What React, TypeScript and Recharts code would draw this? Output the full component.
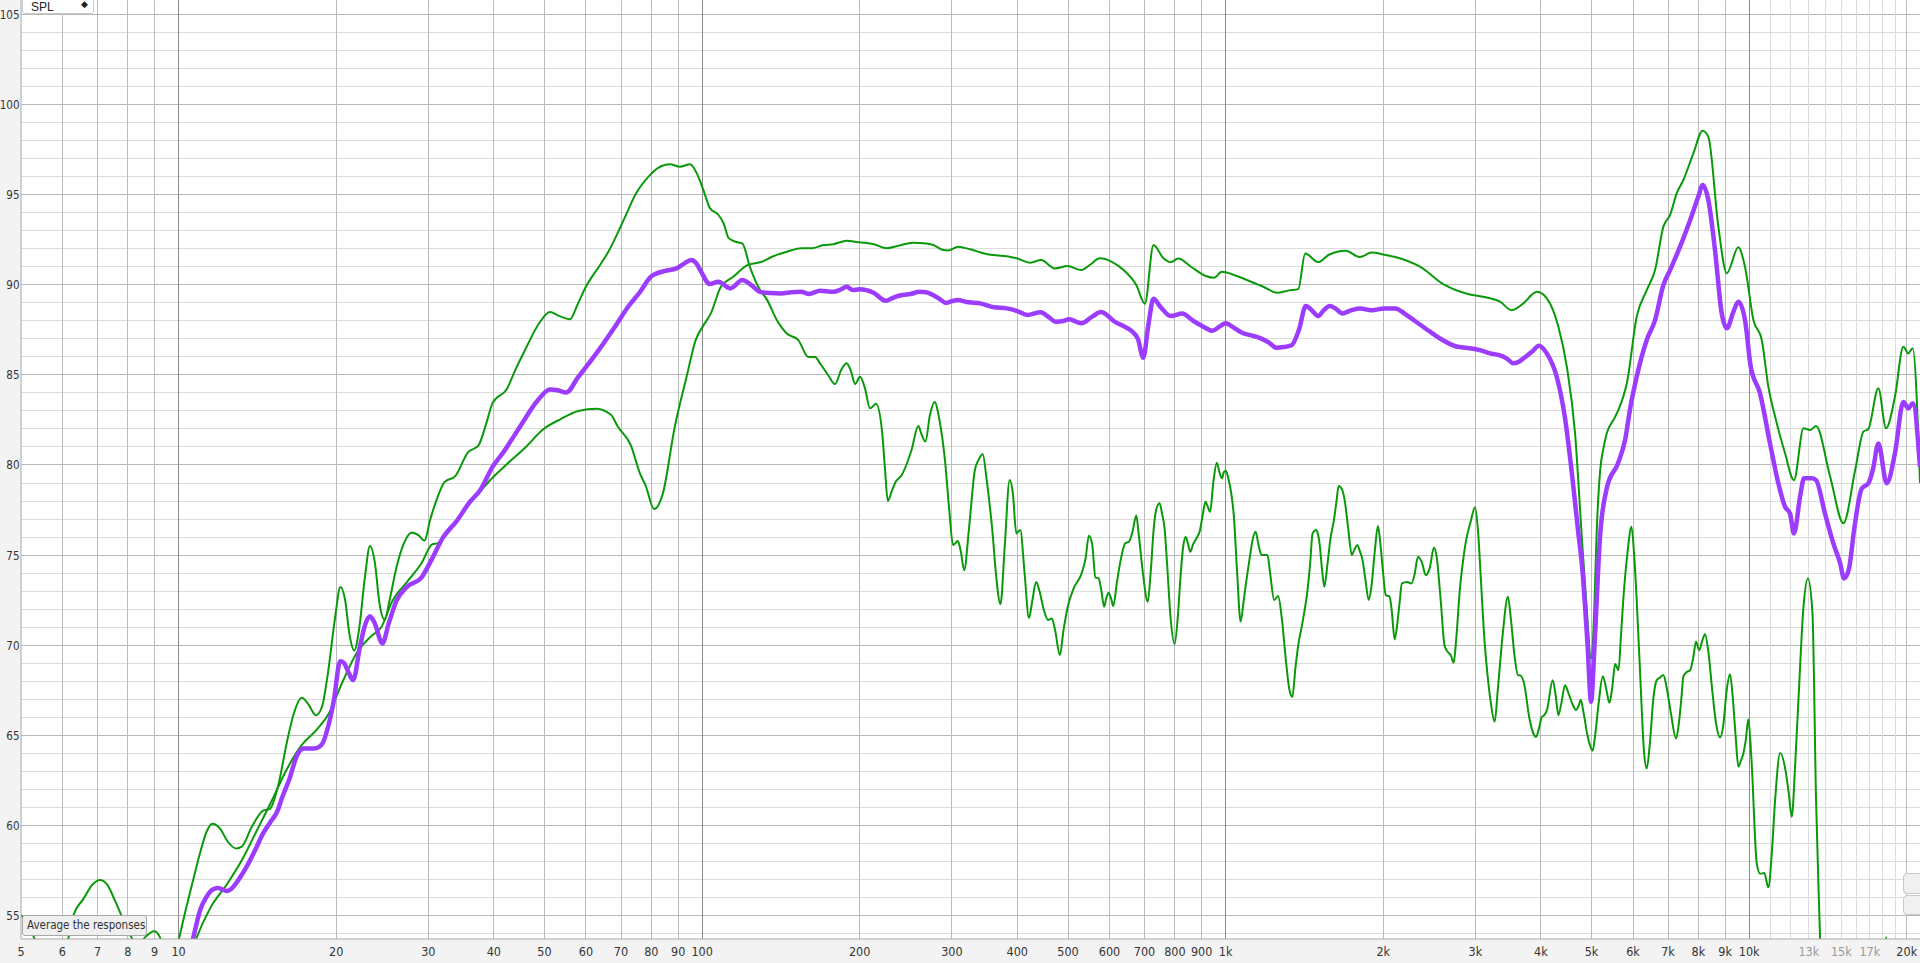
import { LineChart, Line, XAxis, YAxis, ReferenceLine, ReferenceArea } from "recharts";

// [frequency Hz, SPL dB]
const woofer: [number, number][] = [
  [5.0, 55.0], [5.2, 54.3], [5.4, 53.1], [5.75, 51.5], [6.1, 53.2], [6.3, 55.0], [6.58, 55.9], [6.85, 56.7],
  [7.08, 56.95], [7.3, 56.7], [7.56, 55.8], [7.77, 55.0], [8.05, 54.0], [8.35, 53.3], [8.65, 53.8], [8.98, 54.1],
  [9.2, 53.8], [9.45, 52.8], [9.8, 52.6], [10.0, 53.6], [10.3, 55.2], [10.65, 56.9], [10.98, 58.4], [11.3, 59.6],
  [11.6, 60.07], [12.0, 59.8], [12.4, 59.1], [12.87, 58.7], [13.2, 58.8], [13.8, 59.9], [14.5, 60.8], [14.95, 60.9],
  [15.5, 62.2], [16.1, 64.6], [16.6, 66.2], [17.2, 67.07], [17.7, 66.7], [18.3, 66.1], [18.8, 66.6], [19.3, 68.5],
  [19.9, 71.5], [20.37, 73.23], [20.8, 72.5], [21.2, 70.6], [21.66, 69.7], [22.1, 70.8], [22.7, 73.8], [23.2, 75.5],
  [23.7, 74.6], [24.2, 72.3], [24.75, 71.4], [25.3, 72.5], [26.05, 74.27], [26.9, 75.6], [27.9, 76.25], [28.7, 76.1],
  [29.5, 75.8], [30.2, 76.9], [31.0, 77.95], [32.2, 79.05], [33.8, 79.4], [35.7, 80.7], [37.4, 81.09], [38.6, 82.2],
  [39.8, 83.45], [42.4, 84.24], [44.0, 85.3], [45.9, 86.39], [48.9, 87.9], [51.2, 88.5], [53.2, 88.3], [55.9, 88.1],
  [57.8, 88.9], [59.9, 89.87], [63.8, 91.1], [66.2, 91.84], [71.3, 93.8], [74.5, 95.0], [79.5, 96.1], [82.4, 96.5],
  [86.8, 96.7], [90.7, 96.57], [94.8, 96.7], [97.7, 96.2], [100.5, 95.3], [103.5, 94.27], [107.4, 93.9], [110, 93.4],
  [112.4, 92.6], [115.9, 92.4], [119.4, 92.3], [123.4, 91.0], [129, 89.72], [132.9, 89.2], [138.9, 88.05], [145.1, 87.3],
  [152.7, 86.94], [159.6, 86.0], [164.3, 86.0], [168, 85.65], [174, 85.0], [179.4, 84.5], [184.5, 85.3], [188.9, 85.65],
  [192.5, 85.2], [196, 84.5], [200.3, 84.9], [204.5, 84.3], [209.3, 83.15], [214.9, 83.4], [220.6, 81.9], [223.5, 79.8],
  [226.3, 78.0], [230, 78.5], [234.3, 79.07], [240.6, 79.44], [245.5, 80.0], [251.2, 80.83], [258.8, 82.17], [262.5, 81.7],
  [267, 81.3], [272.5, 82.8], [278, 83.5], [284, 82.5], [291.4, 80.09], [296.5, 77.5], [301.5, 75.55], [307.9, 75.78],
  [312, 75.2], [316.6, 74.16], [323.5, 76.5], [331.9, 79.72], [337.5, 80.3], [343.6, 80.6], [349.5, 79.2], [358.8, 76.2],
  [364, 74.0], [371.5, 72.27], [378.5, 75.5], [386.7, 79.16], [392, 78.5], [398.3, 76.2], [405.3, 76.39], [413, 74.0],
  [421, 71.5], [427.5, 72.5], [434.5, 73.5], [441, 73.0], [449, 72.0], [458, 71.39], [465.7, 71.48], [472.5, 70.8],
  [482.4, 69.44], [490, 70.8], [500, 72.2], [512.6, 73.15], [530.8, 73.98], [540, 74.8], [548, 76.07], [556, 75.6],
  [564, 73.76], [572, 73.7], [579, 73.0], [586, 72.13], [591.5, 72.6], [597.6, 72.9], [604, 72.6], [610, 72.16],
  [620, 73.5], [631, 74.8], [643, 75.65], [654, 75.74], [664, 76.3], [675, 77.2], [682, 76.2], [695, 74.0],
  [710, 72.4], [719, 74.0], [729, 76.5], [738, 77.6], [748, 77.87], [756, 77.3], [765, 76.39], [773, 74.5],
  [785, 71.5], [799, 70.05], [810, 71.5], [820, 73.8], [830, 75.5], [838.6, 76.0], [846, 75.7], [856, 75.18],
  [867, 75.6], [879, 75.92], [892, 76.3], [905, 77.3], [915, 77.96], [924, 77.7], [934, 77.4], [947, 79.0],
  [962, 80.13], [973, 79.6], [984, 79.26], [992, 79.6], [1001, 79.68], [1013, 79.2], [1024, 78.5], [1037, 77.13],
  [1052, 74.0], [1068, 71.3], [1083, 72.5], [1098, 73.79], [1114, 75.0], [1125, 75.8], [1141, 76.29], [1155, 75.6],
  [1171, 75.0], [1186, 75.0], [1202, 75.0], [1216, 74.0], [1238, 72.5], [1260, 72.72], [1280, 71.5], [1305, 69.0],
  [1324, 67.5], [1341, 67.12], [1360, 68.8], [1381, 70.27], [1395, 70.9], [1412, 71.76], [1430, 72.8], [1450, 74.5],
  [1466, 76.2], [1488, 76.39], [1500, 76.2], [1512, 75.6], [1528, 74.2], [1544, 73.24], [1565, 74.5], [1586, 75.92],
  [1610, 76.94], [1627, 77.9], [1644, 78.83], [1665, 78.7], [1688, 78.05], [1714, 76.5], [1742, 75.0], [1762, 75.3],
  [1784, 75.55], [1805, 75.2], [1826, 74.72], [1850, 73.6], [1876, 72.5], [1898, 73.2], [1927, 75.2], [1954, 76.61],
  [1977, 75.5], [1999, 74.0], [2022, 72.77], [2055, 72.7], [2075, 72.0], [2103, 70.31], [2128, 71.2], [2150, 72.4],
  [2171, 73.42], [2222, 73.5], [2264, 73.42], [2295, 73.9], [2330, 74.9], [2370, 74.6], [2412, 73.88], [2455, 74.3],
  [2500, 75.42], [2530, 74.9], [2575, 72.5], [2620, 69.94], [2660, 69.6], [2695, 69.4], [2726, 69.01], [2760, 70.5],
  [2800, 73.0], [2845, 74.8], [2880, 75.83], [2935, 76.8], [2995, 77.65], [3035, 76.3], [3075, 73.5], [3115, 70.65],
  [3160, 68.5], [3210, 66.8], [3265, 65.74], [3310, 67.5], [3380, 70.5], [3461, 72.68], [3505, 71.5], [3560, 69.5],
  [3617, 68.33], [3660, 68.3], [3720, 67.8], [3800, 66.0], [3870, 65.1], [3917, 64.9], [3970, 65.4], [4016, 66.0],
  [4060, 66.1], [4110, 66.4], [4215, 68.05], [4270, 67.2], [4321, 66.1], [4380, 66.8], [4449, 67.77], [4520, 67.3],
  [4600, 66.7], [4671, 66.39], [4720, 66.6], [4768, 66.94], [4830, 66.2], [4909, 65.0], [4970, 64.4], [5025, 64.13],
  [5080, 65.0], [5160, 66.8], [5252, 68.27], [5330, 67.6], [5408, 66.79], [5475, 67.6], [5545, 68.94], [5629, 68.6],
  [5690, 70.5], [5748, 72.5], [5850, 75.0], [5960, 76.57], [6030, 75.0], [6098, 72.5], [6200, 68.0], [6300, 64.0],
  [6374, 63.15], [6460, 64.5], [6560, 67.0], [6661, 68.05], [6760, 68.2], [6857, 68.33], [6960, 67.6], [7080, 66.3],
  [7251, 64.81], [7330, 65.5], [7420, 67.0], [7487, 68.24], [7600, 68.5], [7712, 68.6], [7820, 69.3], [7915, 70.18],
  [8031, 69.72], [8130, 70.2], [8235, 70.6], [8360, 69.6], [8500, 67.5], [8650, 65.6], [8798, 64.87], [8920, 65.5],
  [9060, 67.5], [9194, 68.38], [9310, 67.0], [9430, 64.8], [9535, 63.24], [9650, 63.6], [9748, 63.98], [9850, 64.7],
  [9965, 65.87], [10100, 63.7], [10340, 57.87], [10490, 57.3], [10690, 57.33], [10880, 56.54], [11050, 58.5], [11210, 61.4],
  [11460, 64.0], [11760, 62.87], [11900, 61.8], [12060, 60.46], [12250, 63.5], [12420, 66.94], [12700, 72.13], [12950, 73.7],
  [13210, 71.8], [13420, 61.4], [13660, 53.7], [13900, 45.0], [18050, 44.0], [18260, 53.8], [18470, 44.0], [21200, 44.0],
];

const tweeter: [number, number][] = [
  [10.3, 51.8], [10.8, 53.67], [11.5, 55.4], [12.36, 56.7], [13.27, 58.16], [14.13, 59.74], [15.04, 61.31], [16.03, 63.0],
  [17.07, 64.33], [18.45, 65.37], [19.33, 66.16], [20.6, 68.0], [21.9, 69.57], [23.3, 70.48], [24.4, 71.0], [25.6, 72.44],
  [27.3, 73.5], [29.1, 74.54], [30.5, 75.59], [31.2, 75.65], [33.0, 76.39], [36.2, 77.95], [39.2, 79.1], [42.4, 80.05],
  [45.9, 80.96], [49.8, 82.0], [53.6, 82.54], [58.0, 83.0], [62.8, 83.13], [66.9, 82.8], [69.0, 82.14], [73.1, 81.09],
  [76.1, 79.52], [78.0, 78.86], [81.0, 77.55], [84.0, 78.34], [88.7, 82.14], [93.4, 84.9], [97.2, 86.94], [100.7, 87.77],
  [103.9, 88.42], [108.6, 89.9], [114.7, 90.46], [122, 91.1], [130, 91.29], [136, 91.57], [145.1, 91.85], [155, 92.04],
  [162, 92.04], [170.6, 92.22], [178, 92.26], [188.9, 92.46], [199.5, 92.37], [213, 92.26], [225, 92.04], [237, 92.18],
  [253.2, 92.35], [268, 92.3], [276.5, 92.22], [288.8, 91.94], [295, 91.92], [308.5, 92.13], [325, 91.98], [349, 91.72],
  [377, 91.61], [399, 91.48], [424, 91.24], [444, 91.39], [472, 90.92], [499, 91.05], [530, 90.83], [550, 91.11],
  [575.4, 91.48], [605, 91.3], [640, 90.8], [675, 90.0], [701, 88.96], [728, 92.22], [760, 91.5], [785, 91.27],
  [812, 91.47], [860, 91.0], [916, 90.5], [950, 90.4], [983, 90.73], [1050, 90.5], [1104, 90.25], [1180, 89.9],
  [1254, 89.57], [1320, 89.7], [1376, 89.77], [1419, 91.75], [1502, 91.27], [1575, 91.68], [1695, 91.9], [1804, 91.55],
  [1900, 91.8], [2011, 91.68], [2110, 91.55], [2355, 91.0], [2620, 90.0], [2900, 89.5], [3100, 89.35], [3343, 89.07],
  [3520, 88.6], [3705, 88.98], [3930, 89.62], [4106, 89.26], [4321, 87.68], [4484, 85.46], [4650, 81.76], [4790, 76.0],
  [4890, 72.2], [4989, 69.26], [5060, 72.0], [5110, 76.0], [5189, 79.6], [5274, 81.0], [5346, 81.76], [5527, 82.59],
  [5625, 83.05], [5748, 83.8], [5838, 84.53], [6098, 88.24], [6374, 89.72], [6611, 90.83], [6857, 93.24], [7063, 93.9],
  [7273, 95.1], [7487, 95.83], [7824, 97.31], [8151, 98.57], [8356, 98.24], [8733, 93.24], [9064, 90.65], [9535, 92.09],
  [9820, 91.0], [10190, 88.05], [10570, 86.94], [10880, 84.35], [11210, 82.68], [11710, 80.65], [12180, 79.16], [12700, 82.04],
  [13070, 81.94], [13420, 82.16], [14280, 79.35], [15140, 76.76], [15940, 79.72], [16530, 81.85], [16890, 82.0], [17650, 84.26],
  [18260, 82.04], [18990, 83.8], [19700, 86.57], [20140, 86.2], [20530, 86.48], [21200, 79.0],
];

const average: [number, number][] = [
  [10.4, 52.5], [10.65, 53.67], [11.0, 55.3], [11.3, 56.0], [11.6, 56.41], [11.9, 56.5], [12.36, 56.33], [12.6, 56.45],
  [13.0, 56.94], [13.5, 57.7], [14.0, 58.6], [14.5, 59.54], [15.0, 60.2], [15.4, 60.7], [15.8, 61.6], [16.3, 62.6],
  [16.8, 63.8], [17.3, 64.25], [17.8, 64.25], [18.3, 64.27], [18.8, 64.5], [19.3, 65.46], [19.8, 66.94], [20.35, 69.1],
  [20.7, 69.0], [21.1, 68.5], [21.55, 68.05], [22.2, 69.9], [22.7, 71.1], [23.2, 71.6], [23.7, 71.2], [24.5, 70.09],
  [25.2, 71.2], [26.05, 72.44], [27.3, 73.23], [29.1, 73.75], [30.5, 74.8], [32.0, 75.98], [34.0, 76.9], [36.0, 77.95],
  [37.7, 78.61], [39.8, 79.91], [41.7, 80.7], [45.2, 82.27], [48.5, 83.58], [51.2, 84.19], [53, 84.15], [55.0, 84.03],
  [58.0, 84.89], [62.8, 86.2], [68.0, 87.64], [72.4, 88.83], [76.1, 89.61], [79.9, 90.47], [84.9, 90.78], [89.3, 90.92],
  [92.5, 91.2], [95.3, 91.39], [97.5, 91.2], [99.3, 90.8], [103.5, 90.05], [107.4, 90.18], [113.2, 89.81], [119.4, 90.27],
  [124, 90.0], [129, 89.62], [135, 89.55], [141.6, 89.53], [148, 89.6], [154.6, 89.62], [160, 89.5], [168, 89.68],
  [177.8, 89.62], [184, 89.75], [188.9, 89.9], [194, 89.72], [200, 89.76], [212.6, 89.57], [224.3, 89.12], [232, 89.3],
  [241.3, 89.44], [250, 89.5], [260.3, 89.62], [268, 89.6], [276, 89.44], [285, 89.2], [292.4, 89.0], [300, 89.1],
  [308, 89.16], [320, 89.05], [340, 88.98], [361, 88.76], [382, 88.7], [400, 88.55], [418, 88.33], [443, 88.48],
  [460, 88.2], [473, 87.96], [490, 88.0], [502, 88.09], [530, 87.87], [556, 88.24], [578, 88.5], [595, 88.3],
  [611, 88.0], [640, 87.7], [660, 87.46], [680, 87.0], [696, 85.96], [712, 87.8], [728, 89.23], [750, 88.8],
  [785, 88.27], [826, 88.41], [868, 88.0], [905, 87.7], [943, 87.46], [975, 87.7], [1000, 87.87], [1040, 87.6],
  [1078, 87.33], [1120, 87.2], [1164, 87.05], [1210, 86.8], [1250, 86.51], [1290, 86.55], [1336, 86.65], [1380, 87.5],
  [1423, 88.83], [1460, 88.6], [1503, 88.27], [1540, 88.6], [1581, 88.83], [1620, 88.7], [1670, 88.42], [1740, 88.6],
  [1805, 88.69], [1900, 88.6], [2011, 88.69], [2110, 88.69], [2200, 88.4], [2300, 88.0], [2430, 87.5], [2560, 87.05],
  [2760, 86.58], [2900, 86.5], [3070, 86.37], [3200, 86.2], [3330, 86.1], [3450, 85.9], [3540, 85.65], [3610, 85.7],
  [3705, 85.92], [3850, 86.3], [3965, 86.63], [4106, 86.2], [4290, 84.9], [4449, 82.6], [4583, 79.6], [4718, 76.2],
  [4795, 74.4], [4913, 70.0], [4989, 66.85], [5068, 70.1], [5189, 76.0], [5356, 78.8], [5615, 80.09], [5794, 81.39],
  [5930, 83.2], [6098, 84.9], [6374, 86.94], [6611, 88.05], [6857, 90.0], [7063, 90.83], [7379, 92.13], [7712, 93.6],
  [7995, 94.9], [8151, 95.55], [8356, 94.72], [8605, 91.94], [8863, 88.42], [9064, 87.59], [9330, 88.51], [9535, 89.07],
  [9820, 88.05], [10070, 85.46], [10490, 83.98], [10960, 81.2], [11370, 78.98], [11710, 77.68], [11970, 77.3], [12180, 76.2],
  [12510, 78.24], [12730, 79.26], [13170, 79.26], [13420, 79.16], [13960, 77.3], [14480, 75.65], [14920, 74.55], [15180, 73.7],
  [15500, 74.2], [15900, 76.6], [16410, 78.7], [16890, 78.98], [17250, 79.8], [17650, 81.2], [18310, 78.98], [18990, 80.65],
  [19700, 83.5], [20140, 83.15], [20530, 83.43], [21200, 79.9],
];

const freqTicks = [5, 6, 7, 8, 9, 10, 20, 30, 40, 50, 60, 70, 80, 90, 100, 200, 300, 400, 500, 600, 700, 800, 900,
  1000, 2000, 3000, 4000, 5000, 6000, 7000, 8000, 9000, 10000, 13000, 15000, 17000, 20000];
const faintFreqTicks = [13000, 15000, 17000];
const splTicks = [55, 60, 65, 70, 75, 80, 85, 90, 95, 100, 105];

const decadeLines = [10, 100, 1000, 10000];
const minorFreqLines = [6, 7, 8, 9, 20, 30, 40, 50, 60, 70, 80, 90, 200, 300, 400, 500, 600, 700, 800, 900,
  2000, 3000, 4000, 5000, 6000, 7000, 8000, 9000, 20000];
const fineFreqLines = [11000, 12000, 13000, 14000, 15000, 16000, 17000, 18000, 19000];
const fineSplLines = Array.from({ length: 52 }, (_, i) => 54 + i).filter((v) => v % 5 !== 0);

const F_MIN = 5;
const F_MAX = 21200;
const SPL_MIN = 53.67;
const SPL_MAX = 105.83;

const toPoints = (rows: [number, number][]) => rows.map(([f, spl]) => ({ f, spl }));

const tickFont = "'Liberation Sans Narrow', 'DejaVu Sans Condensed', sans-serif";

const FreqTick = (props: any) => {
  const { x, payload } = props;
  const v = payload.value as number;
  const label = v >= 1000 ? `${v / 1000}k` : `${v}`;
  return (
    <text x={x} y={956} textAnchor="middle" fontSize={12.5} fontFamily={tickFont}
      fill={faintFreqTicks.includes(v) ? "#9a9a9a" : "#333"}>
      {label}
    </text>
  );
};

const SplTick = (props: any) => {
  const { y, payload } = props;
  return (
    <text x={19.5} y={y + 4.5} textAnchor="end" fontSize={11.5} fontFamily={tickFont} fill="#333">
      {payload.value}
    </text>
  );
};

export default function App() {
  return (
    <div style={{ position: "relative", width: 1920, height: 963, background: "#f3f3f3", overflow: "hidden" }}>
      <style>{"body{margin:0}"}</style>
      <LineChart width={1920} height={963} margin={{ top: 0, right: 0, left: 0, bottom: 0 }}>
        <XAxis dataKey="f" type="number" scale="log" domain={[F_MIN, F_MAX]} allowDataOverflow
          ticks={freqTicks} interval={0} tick={<FreqTick />} tickLine={false} height={24}
          axisLine={{ stroke: "#a8a8a8" }} />
        <YAxis type="number" domain={[SPL_MIN, SPL_MAX]} allowDataOverflow ticks={splTicks} interval={0}
          tick={<SplTick />} tickLine={false} width={21} axisLine={{ stroke: "#a8a8a8" }} />
        <ReferenceArea x1={F_MIN} x2={F_MAX} y1={SPL_MIN} y2={SPL_MAX} fill="#ffffff" fillOpacity={1} stroke="none" ifOverflow="visible" />
        {fineSplLines.map((v) => (
          <ReferenceLine key={`hs${v}`} y={v} stroke="#dcdcdc" strokeWidth={1} shapeRendering="crispEdges" />
        ))}
        {splTicks.map((v) => (
          <ReferenceLine key={`hm${v}`} y={v} stroke="#b8b8b8" strokeWidth={1} shapeRendering="crispEdges" />
        ))}
        {fineFreqLines.map((v) => (
          <ReferenceLine key={`vf${v}`} x={v} stroke="#dcdcdc" strokeWidth={1} shapeRendering="crispEdges" />
        ))}
        {minorFreqLines.map((v) => (
          <ReferenceLine key={`vm${v}`} x={v} stroke="#bcbcbc" strokeWidth={1} shapeRendering="crispEdges" />
        ))}
        {decadeLines.map((v) => (
          <ReferenceLine key={`vd${v}`} x={v} stroke="#8a8a8a" strokeWidth={1} shapeRendering="crispEdges" />
        ))}
        <Line data={toPoints(woofer)} dataKey="spl" type="monotone" stroke="#0a990a" strokeWidth={2}
          dot={false} activeDot={false} isAnimationActive={false} />
        <Line data={toPoints(tweeter)} dataKey="spl" type="monotone" stroke="#0a990a" strokeWidth={2}
          dot={false} activeDot={false} isAnimationActive={false} />
        <Line data={toPoints(average)} dataKey="spl" type="monotone" stroke="#9b3cff" strokeWidth={4.5}
          dot={false} activeDot={false} isAnimationActive={false} />
      </LineChart>

      <div style={{
        position: "absolute", left: 22, top: -6, width: 70, height: 18, border: "1px solid #c8c8c8",
        borderRadius: 3, background: "#fff", fontFamily: "'Liberation Sans', sans-serif", fontSize: 12, color: "#222",
      }}>
        <span style={{ position: "absolute", left: 8, top: 6, lineHeight: "12px" }}>SPL</span>
        <span style={{ position: "absolute", left: 58, top: 4, fontSize: 9, lineHeight: "10px" }}>◆</span>
      </div>

      <div style={{
        position: "absolute", left: 22, top: 915, width: 125, height: 21, border: "1px solid #a9a9a9",
        borderRadius: 3, background: "#efefef", boxSizing: "border-box",
        fontFamily: "'Liberation Sans Narrow', 'DejaVu Sans Condensed', sans-serif", fontSize: 11.5, color: "#333",
        lineHeight: "19px", paddingLeft: 4, whiteSpace: "nowrap",
      }}>
        Average the responses
      </div>

      <div style={{
        position: "absolute", left: 1903, top: 873, width: 30, height: 19, border: "1px solid #c8c8c8",
        borderRadius: 4, background: "#f0f0f0",
      }} />
      <div style={{
        position: "absolute", left: 1903, top: 895, width: 30, height: 18, border: "1px solid #c8c8c8",
        borderRadius: 4, background: "#f0f0f0",
      }} />
    </div>
  );
}
